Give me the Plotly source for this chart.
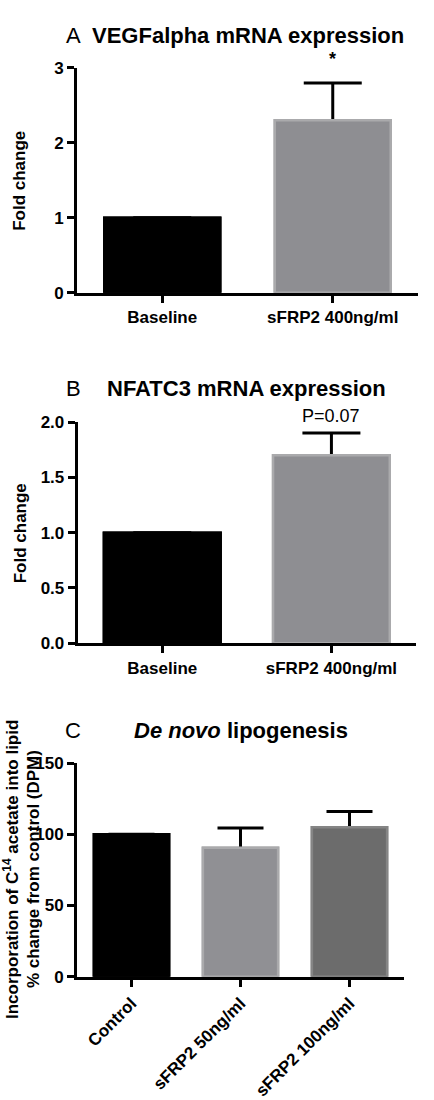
import plotly.graph_objects as go

W, H = 434, 1100
FONT = "Liberation Sans"

# ---- data ----
a_cats = ["Baseline", "sFRP2 400ng/ml"]
a_vals = [1.0, 2.3]
a_err = [None, 0.5]
a_colors = ["#000000", "#8e8e92"]
a_lines = ["#000000", "#aaaaac"]

b_cats = ["Baseline", "sFRP2 400ng/ml"]
b_vals = [1.0, 1.7]
b_err = [None, 0.2]
b_colors = ["#000000", "#8e8e92"]
b_lines = ["#000000", "#aaaaac"]

c_cats = ["Control", "sFRP2 50ng/ml", "sFRP2 100ng/ml"]
c_vals = [100, 90.5, 105]
c_err = [None, 14, 11]
c_colors = ["#000000", "#909094", "#6c6c6c"]
c_lines = ["#000000", "#aaaaac", "#858585"]


def px_x(p):
    return p / W


def px_y(p):
    return 1 - p / H


fig = go.Figure()


def add_bar(cats, vals, errs, colors, lines, xa, ya, capw, width):
    # bars carrying symmetric error bars; the lower half is hidden by the
    # identical bars drawn on top, leaving upper-only whiskers
    fig.add_trace(go.Bar(
        x=cats, y=vals, xaxis=xa, yaxis=ya, width=width,
        marker=dict(color=colors, line=dict(color=lines, width=2.5)),
        error_y=dict(type="data", array=errs, symmetric=True,
                     color="#000000", thickness=3, width=capw),
        showlegend=False, hoverinfo="skip",
    ))
    fig.add_trace(go.Bar(
        x=cats, y=vals, xaxis=xa, yaxis=ya, width=width,
        marker=dict(color=colors, line=dict(color=lines, width=2.5)),
        showlegend=False, hoverinfo="skip",
    ))


add_bar(a_cats, a_vals, a_err, a_colors, a_lines, "x", "y", 29, 0.68)
add_bar(b_cats, b_vals, b_err, b_colors, b_lines, "x2", "y2", 29, 0.69)
add_bar(c_cats, c_vals, c_err, c_colors, c_lines, "x3", "y3", 23, 0.69)

tickfont = dict(family=FONT, size=17, color="#000000", weight="bold")
axis_common = dict(showline=True, linecolor="#000000", linewidth=3,
                   ticks="outside", ticklen=7, tickwidth=3, tickcolor="#000000",
                   showgrid=False, zeroline=False, tickfont=tickfont, fixedrange=True)

fig.update_layout(
    width=W, height=H,
    margin=dict(l=0, r=0, t=0, b=0),
    paper_bgcolor="white", plot_bgcolor="white",
    barmode="overlay",
    xaxis=dict(domain=[px_x(77), px_x(418)], anchor="y", range=[-0.5, 1.5], **axis_common),
    yaxis=dict(domain=[px_y(289), px_y(60)], anchor="x", range=[0, 3], dtick=1, **axis_common),
    xaxis2=dict(domain=[px_x(77.7), px_x(416)], anchor="y2", range=[-0.5, 1.5], **axis_common),
    yaxis2=dict(domain=[px_y(646), px_y(420.7)], anchor="x2", range=[0, 2], dtick=0.5,
                tickformat=".1f", **axis_common),
    xaxis3=dict(domain=[px_x(77), px_x(404)], anchor="y3", range=[-0.5, 2.5],
                tickangle=-45, **axis_common),
    yaxis3=dict(domain=[px_y(985.7), px_y(768)], anchor="x3", range=[0, 150], dtick=50,
                **axis_common),
)

ann = []
title_font = dict(family=FONT, size=22, color="#000000")
bold_title = dict(family=FONT, size=22, color="#000000", weight="bold")
# panel letters
for letter, y in [("A", 27), ("B", 387), ("C", 735)]:
    ann.append(dict(text=letter, x=px_x(73), y=px_y(y), xref="paper", yref="paper",
                    xanchor="center", yanchor="middle", showarrow=False, font=title_font))
ann.append(dict(text="VEGFalpha mRNA expression", x=px_x(247.5), y=px_y(27), xref="paper",
                yref="paper", xanchor="center", yanchor="middle", showarrow=False, font=bold_title))
ann.append(dict(text="NFATC3 mRNA expression", x=px_x(246.5), y=px_y(387), xref="paper",
                yref="paper", xanchor="center", yanchor="middle", showarrow=False, font=bold_title))
ann.append(dict(text="<i>De novo</i> lipogenesis", x=px_x(241), y=px_y(735), xref="paper",
                yref="paper", xanchor="center", yanchor="middle", showarrow=False, font=bold_title))

ytitle_font = dict(family=FONT, size=17, color="#000000", weight="bold")
ann.append(dict(text="Fold change", x=px_x(20), y=px_y(175), xref="paper", yref="paper",
                textangle=-90, xanchor="center", yanchor="middle", showarrow=False, font=ytitle_font))
ann.append(dict(text="Fold change", x=px_x(20), y=px_y(534), xref="paper", yref="paper",
                textangle=-90, xanchor="center", yanchor="middle", showarrow=False, font=ytitle_font))
ann.append(dict(text="Incorporation of C<sup>14</sup> acetate into lipid",
                x=px_x(11), y=px_y(877), xref="paper", yref="paper",
                textangle=-90, xanchor="center", yanchor="middle", showarrow=False, font=ytitle_font))
ann.append(dict(text="% change from control (DPM)",
                x=px_x(33), y=px_y(876), xref="paper", yref="paper",
                textangle=-90, xanchor="center", yanchor="middle", showarrow=False, font=ytitle_font))

# significance labels
ann.append(dict(text="*", x=1, y=a_vals[1] + a_err[1], xref="x", yref="y", yshift=24,
                xanchor="center", yanchor="middle", showarrow=False,
                font=dict(family=FONT, size=18, color="#000000", weight="bold")))
ann.append(dict(text="P=0.07", x=1, y=b_vals[1] + b_err[1], xref="x2", yref="y2", yshift=17,
                xanchor="center", yanchor="middle", showarrow=False,
                font=dict(family=FONT, size=18, color="#000000")))

fig.update_layout(annotations=ann)
fig.write_html("out.html")
